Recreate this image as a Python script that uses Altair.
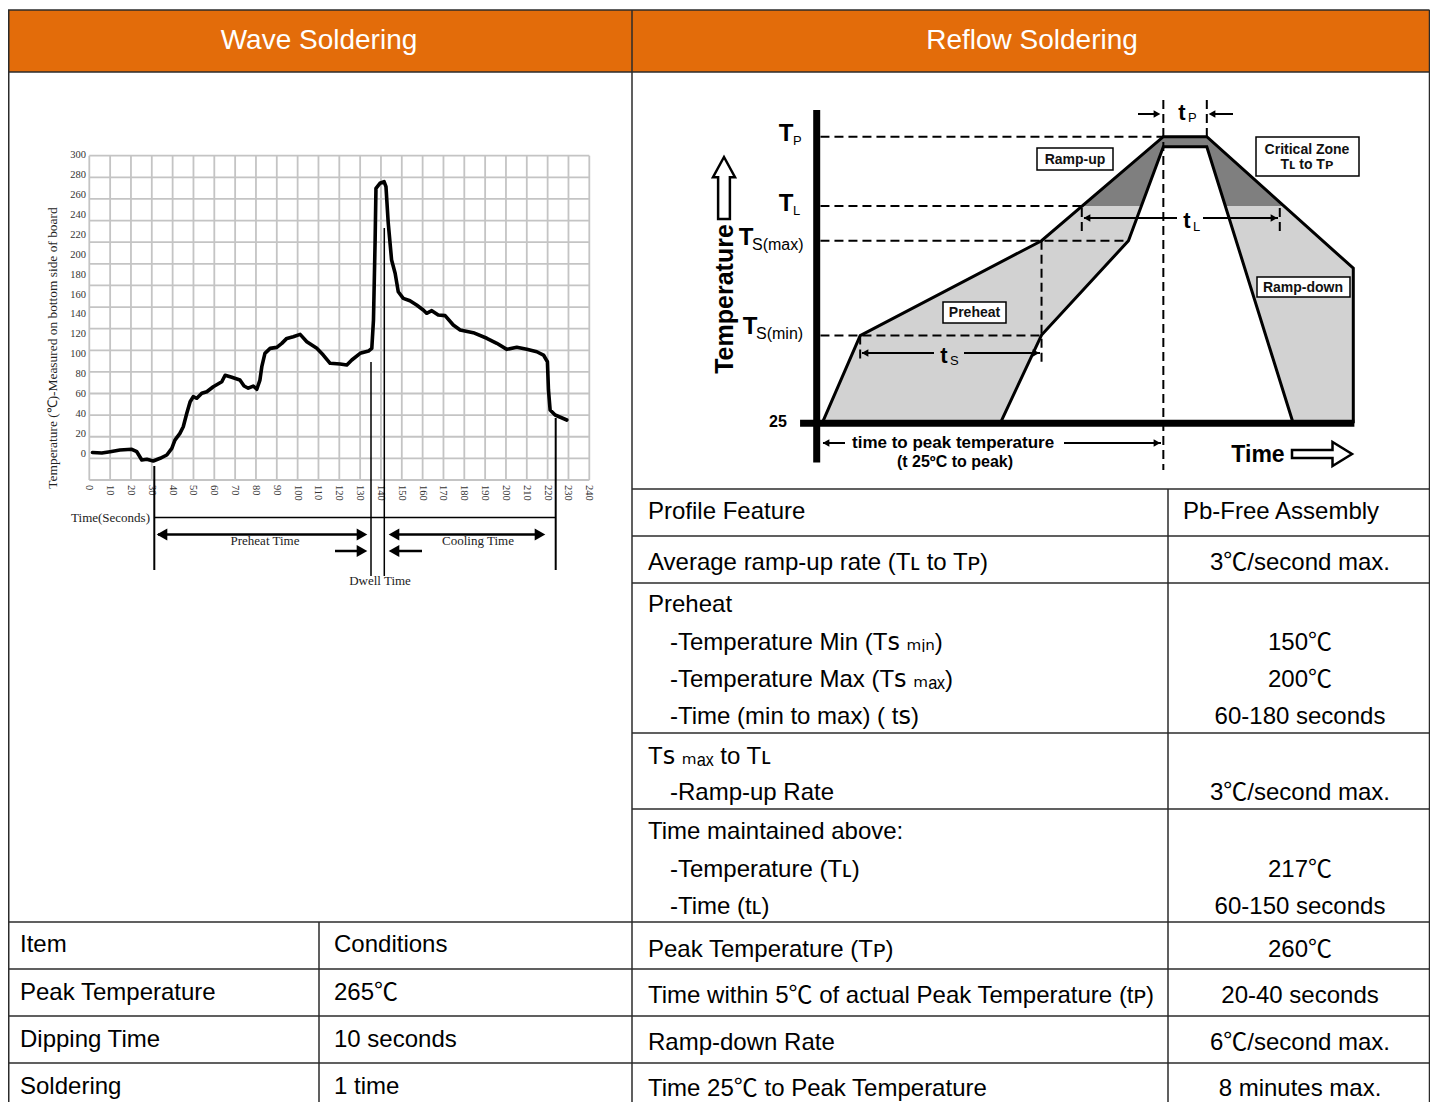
import altair as alt
import pandas as pd

# =========================== DATA ===========================
HEADERS = ["Wave Soldering", "Reflow Soldering"]

# wave soldering profile (seconds, deg C)
WAVE_TIME = [1.5, 6, 10, 14.7, 20.4, 22.8, 25.2, 27.6, 30.7, 34, 37.2, 39.6, 41.1, 43.5, 45.1,
             46.8, 48.4, 49.9, 51.6, 54, 56.4, 59.5, 63.6, 65.2, 68.4, 72.3, 74.3, 76.3, 78.7, 80.4,
             81.9, 82.8, 84.3, 86.8, 90, 92.4, 94.8, 97.9, 101.2, 104.4, 109.2, 112.3, 115.6, 120.4, 123.6,
             126, 130, 134, 135.6, 136.4, 137.2, 137.6, 139.5, 141.5, 142.4, 143.5, 145.1, 146.8, 148.3, 150.7,
             153.9, 157.1, 160.3, 161.9, 164.4, 167.5, 170.8, 174.7, 178, 184.3, 190.8, 195.6, 200.4, 205.2, 210,
             214.8, 218, 219.9, 220.4, 221.2, 223.6, 229.2]
WAVE_TEMP = [1.5, 1, 2.3, 4, 4.7, 2.3, -6, -5.3, -7, -4.3, -1, 5.7, 14, 20.7, 27.4,
             40.8, 52.5, 57.5, 55.9, 60.9, 62.5, 67.5, 72.5, 79, 77, 74.2, 68.2, 66, 68.2, 65,
             74.2, 87.6, 101, 106, 107, 111, 116, 117.7, 120, 112.7, 106, 99.3, 91, 90.3, 89.3,
             94.3, 101, 103.3, 106, 134.4, 214.7, 266.6, 271.6, 273.2, 268.2, 231.5, 194.6, 181.3, 162.8, 156.2,
             153.8, 149.5, 144.5, 141.2, 143.8, 139.5, 138.8, 129.4, 124.4, 121.7, 116.1, 111.1, 105, 107, 105,
             102.6, 99.3, 92.6, 64.2, 44.1, 39.1, 34.1]
WAVE_X_TICKS = list(range(0, 241, 10))
WAVE_Y_TICKS = list(range(0, 301, 20))
WAVE_GRID_ROWS = list(range(16))
WAVE_Y_TITLE = "Temperature (℃)-Measured on bottom side of board"
WAVE_NOTES = ["Time(Seconds)", "Preheat Time", "Cooling Time", "Dwell Time"]

WAVE_ITEMS = ["Item", "Peak Temperature", "Dipping Time", "Soldering"]
WAVE_CONDITIONS = ["Conditions", "265℃", "10 seconds", "1 time"]

REFLOW_FEATURES = [
    "Profile Feature",
    "Average ramp-up rate (Tʟ to Tᴘ)",
    "Preheat",
    "-Temperature Min (Tꜱ ₘᵢₙ)",
    "-Temperature Max (Tꜱ ₘₐₓ)",
    "-Time (min to max) ( tꜱ)",
    "Tꜱ ₘₐₓ to Tʟ",
    "-Ramp-up Rate",
    "Time maintained above:",
    "-Temperature (Tʟ)",
    "-Time (tʟ)",
    "Peak Temperature (Tᴘ)",
    "Time within 5℃ of actual Peak Temperature (tᴘ)",
    "Ramp-down Rate",
    "Time 25℃ to Peak Temperature",
]
REFLOW_VALUES = ["Pb-Free Assembly", "3℃/second max.", "", "150℃", "200℃", "60-180 seconds", "",
                 "3℃/second max.", "", "217℃", "60-150 seconds", "260℃", "20-40 seconds",
                 "6℃/second max.", "8 minutes max."]
REFLOW_INDENTED = [False, False, False, True, True, True, False, True, False, True, True,
                   False, False, False, False]

# schematic reflow profile: time 0..100 along the axis, level 0 (=25 ℃) .. 100 (=Tp)
LEVEL_VALUES = [100, 75.8, 63.7, 30.6]          # Tp, TL, Ts(max), Ts(min)
OUTER_T = [1, 8.1, 41.9, 64.6, 72.7, 100, 100]
OUTER_L = [0, 30.6, 63.7, 100, 100, 54.1, 0]
INNER_T = [34.2, 41.9, 58.1, 64.6, 72.7, 88.8]
INNER_L = [0, 30.8, 63.7, 96.5, 96.5, 0]
CRIT_T = [49.4, 64.6, 72.7, 87.1]
CRIT_L = [75.8, 100, 100, 75.8]
DIAGRAM_LABELS = ["Ramp-up", "Critical Zone", "Tʟ to Tᴘ", "Ramp-down", "Preheat"]

# =========================== LAYOUT ===========================
M = 8
W, H = 1438 - 2 * M, 1102 - M
SANS = "Liberation Sans, Arial, Noto Sans CJK SC, DejaVu Sans, sans-serif"
SERIF = "Liberation Serif, Times New Roman, serif"
LINE = "#2b2b2b"


def lin(d0, d1, p0, p1):
    return alt.Scale(domain=[d0, d1], range=[p0 - M, p1 - M], nice=False, zero=False)


PAGE_X = lin(0, 1438, 0, 1438)
PAGE_Y = lin(0, 1102, 0, 1102)
WAVE_X = lin(0, 240, 89.3, 589.3)
WAVE_Y = lin(0, 300, 454, 155)
GRID_Y = lin(0, 15, 480, 155.7)
FLOW_X = lin(0, 100, 816.7, 1353.3)
FLOW_Y = lin(0, 100, 423.3, 136.7)


def exy(sx, sy):
    return dict(x=alt.X("x:Q", scale=sx, axis=None), y=alt.Y("y:Q", scale=sy, axis=None))


def segs(rows, sx, sy, **style):
    df = pd.DataFrame(rows, columns=["x", "y", "x2", "y2"])
    return alt.Chart(df).mark_rule(**style).encode(**exy(sx, sy), x2=alt.X2("x2"), y2=alt.Y2("y2"))


def rects(rows, sx, sy, **style):
    df = pd.DataFrame(rows, columns=["x", "y", "x2", "y2"])
    return alt.Chart(df).mark_rect(**style).encode(**exy(sx, sy), x2=alt.X2("x2"), y2=alt.Y2("y2"))


def texts(xs, ys, labels, sx, sy, **style):
    df = pd.DataFrame({"x": xs, "y": ys, "t": labels})
    return alt.Chart(df).mark_text(**style).encode(**exy(sx, sy), text="t:N")


def points(xs, ys, sx, sy, **style):
    df = pd.DataFrame({"x": xs, "y": ys})
    return alt.Chart(df).mark_point(**style).encode(**exy(sx, sy))


def path(xs, ys, sx, sy, **style):
    df = pd.DataFrame({"x": xs, "y": ys, "i": list(range(len(xs)))})
    return alt.Chart(df).mark_line(**style).encode(**exy(sx, sy), order="i:Q")


def area(xs, ys, base, color):
    df = pd.DataFrame({"x": xs, "y": ys, "b": [base] * len(xs)})
    return alt.Chart(df).mark_area(color=color, opacity=1, line=False).encode(
        **exy(FLOW_X, FLOW_Y), y2=alt.Y2("b"))


def head(xs, ys, shape, size, sx=PAGE_X, sy=PAGE_Y):
    return points(xs, ys, sx, sy, shape=shape, filled=True, color="black", size=size, opacity=1,
                  strokeWidth=0)


layers = []

# ---- header band
layers.append(rects([(8, 10, 1430, 72)], PAGE_X, PAGE_Y, color="#E36C0A"))

# ---- wave soldering chart
layers.append(segs([(t, 0, t, 15) for t in WAVE_X_TICKS], WAVE_X, GRID_Y, color="#c4c4c4", strokeWidth=1.8))
layers.append(segs([(0, k, 240, k) for k in WAVE_GRID_ROWS], WAVE_X, GRID_Y, color="#c4c4c4", strokeWidth=1.8))
layers.append(texts([86] * len(WAVE_Y_TICKS), WAVE_Y_TICKS, [str(v) for v in WAVE_Y_TICKS], PAGE_X, WAVE_Y,
                    align="right", baseline="middle", font=SERIF, fontSize=10.5, color="#333"))
layers.append(texts(WAVE_X_TICKS, [485] * len(WAVE_X_TICKS), [str(v) for v in WAVE_X_TICKS], WAVE_X, PAGE_Y,
                    align="left", baseline="middle", angle=90, font=SERIF, fontSize=10.5, color="#333"))
layers.append(texts([53], [348], [WAVE_Y_TITLE], PAGE_X, PAGE_Y, align="center", baseline="middle",
                    angle=270, font=SERIF, fontSize=13.4, color="#222"))
layers.append(path(WAVE_TIME, WAVE_TEMP, WAVE_X, WAVE_Y, color="black", strokeWidth=3.6,
                   strokeJoin="round", strokeCap="round"))
layers.append(segs([(154.3, 466, 154.3, 570), (555.7, 418, 555.7, 570)], PAGE_X, PAGE_Y,
                   color="black", strokeWidth=2))
layers.append(segs([(371, 362, 371, 576), (384.3, 228, 384.3, 576), (154.3, 517.5, 555.7, 517.5)],
                   PAGE_X, PAGE_Y, color="black", strokeWidth=1.5))
layers.append(segs([(158, 534.5, 362, 534.5), (392, 534.5, 542, 534.5), (335, 551, 362, 551),
                    (394, 551, 422, 551)], PAGE_X, PAGE_Y, color="black", strokeWidth=2.5))
layers.append(head([362, 540, 362], [534.5, 534.5, 551], "triangle-right", 150))
layers.append(head([162, 394, 394], [534.5, 534.5, 551], "triangle-left", 150))
layers.append(texts([150], [517.5], [WAVE_NOTES[0]], PAGE_X, PAGE_Y, align="right", baseline="middle",
                    font=SERIF, fontSize=13, color="#222"))
layers.append(texts([265, 478, 380], [541, 541, 581], WAVE_NOTES[1:], PAGE_X, PAGE_Y, align="center",
                    baseline="middle", font=SERIF, fontSize=13, color="#222"))

# ---- reflow profile diagram
layers.append(area(OUTER_T[:6], OUTER_L[:6], 0, "#d2d2d2"))
layers.append(area(CRIT_T, CRIT_L, LEVEL_VALUES[1], "#7f7f7f"))
layers.append(area(INNER_T, INNER_L, 0, "white"))
layers.append(segs([(0.7, v, x, v) for v, x in zip(LEVEL_VALUES, [64.6, 49.4, 58.1, 41.9])]
                   + [(64.6, 112.8, 64.6, -16.3), (72.7, 112.8, 72.7, 100), (41.9, 63.7, 41.9, 21.4),
                      (49.4, 75.1, 49.4, 66.7), (86.3, 75.1, 86.3, 66.7), (8.1, 30.6, 8.1, 21.4)],
                   FLOW_X, FLOW_Y, color="black", strokeWidth=2, strokeDash=[9, 5]))
layers.append(path(OUTER_T, OUTER_L, FLOW_X, FLOW_Y, color="black", strokeWidth=3, strokeJoin="miter"))
layers.append(path(INNER_T, INNER_L, FLOW_X, FLOW_Y, color="black", strokeWidth=3, strokeJoin="miter"))
layers.append(segs([(0, 109.3, 0, -13.7), (-3.1, 0, 100.2, 0)], FLOW_X, FLOW_Y, color="black",
                   strokeWidth=7, strokeCap="butt"))
# labelled boxes
layers.append(rects([(1037, 148, 1113, 170), (1256, 137, 1359, 176), (1257, 277, 1350, 297),
                     (943, 302, 1006, 323)], PAGE_X, PAGE_Y, fill="white", stroke="black", strokeWidth=1.5))
layers.append(texts([1075, 1307, 1307, 1303, 974.5], [159.5, 149.5, 164.5, 287.5, 312.5], DIAGRAM_LABELS,
                    PAGE_X, PAGE_Y, align="center", baseline="middle", font=SANS, fontSize=14,
                    fontWeight="bold", color="#111"))
# level labels
layers.append(texts([786, 786, 746, 750], [134, 204, 238, 327], ["T", "T", "T", "T"], PAGE_X, PAGE_Y,
                    align="center", baseline="middle", font=SANS, fontSize=24, fontWeight="bold", color="black"))
layers.append(texts([793, 793], [141, 211], ["P", "L"], PAGE_X, PAGE_Y, align="left", baseline="middle",
                    font=SANS, fontSize=13, color="black"))
layers.append(texts([752, 756], [245, 334], ["S(max)", "S(min)"], PAGE_X, PAGE_Y, align="left",
                    baseline="middle", font=SANS, fontSize=16, color="black"))
layers.append(texts([778], [422], ["25"], PAGE_X, PAGE_Y, align="center", baseline="middle", font=SANS,
                    fontSize=16, fontWeight="bold", color="black"))
# time marks
layers.append(texts([1182, 1187, 944], [113, 221, 356], ["t", "t", "t"], PAGE_X, PAGE_Y, align="center",
                    baseline="middle", font=SANS, fontSize=22, fontWeight="bold", color="black"))
layers.append(texts([1188, 1193, 950], [118, 227, 361], ["P", "L", "S"], PAGE_X, PAGE_Y, align="left",
                    baseline="middle", font=SANS, fontSize=13, color="black"))
layers.append(segs([(1138, 114, 1156, 114), (1214, 114, 1233, 114), (1084, 218, 1177, 218),
                    (1203, 218, 1278, 218), (862, 353, 934, 353), (964, 353, 1040, 353),
                    (823, 443, 845, 443), (1064, 443, 1161, 443)], PAGE_X, PAGE_Y, color="black",
                   strokeWidth=2))
layers.append(head([1157, 1274, 1036, 1157], [114, 218, 353, 443], "triangle-right", 60))
layers.append(head([1212, 1087, 865, 826], [114, 218, 353, 443], "triangle-left", 60))
layers.append(texts([852], [443], ["time to peak temperature"], PAGE_X, PAGE_Y, align="left",
                    baseline="middle", font=SANS, fontSize=17, fontWeight="bold", color="black"))
layers.append(texts([955], [462], ["(t 25ºC to peak)"], PAGE_X, PAGE_Y, align="center",
                    baseline="middle", font=SANS, fontSize=16, fontWeight="bold", color="black"))
layers.append(texts([725], [299], ["Temperature"], PAGE_X, PAGE_Y, align="center", baseline="middle",
                    angle=270, font=SANS, fontSize=25, fontWeight="bold", color="black"))
layers.append(texts([1258], [455], ["Time"], PAGE_X, PAGE_Y, align="center", baseline="middle",
                    font=SANS, fontSize=23, fontWeight="bold", color="black"))
UP_ARROW = "M-0.19,1L-0.19,-0.35L-0.355,-0.35L0,-1L0.355,-0.35L0.19,-0.35L0.19,1Z"
RIGHT_ARROW = "M-1,-0.13L0.35,-0.13L0.35,-0.4L1,0L0.35,0.4L0.35,0.13L-1,0.13Z"
layers.append(points([724], [188], PAGE_X, PAGE_Y, shape=UP_ARROW, size=3844, filled=True, fill="white",
                     stroke="black", strokeWidth=2.5, opacity=1))
layers.append(points([1322], [454], PAGE_X, PAGE_Y, shape=RIGHT_ARROW, size=3600, filled=True, fill="white",
                     stroke="black", strokeWidth=2.5, opacity=1))

# ---- table lines
RIGHT = 1429.5
h_lines = [(8, 10, RIGHT, 10), (8, 72, RIGHT, 72)]
h_lines += [(632, y, RIGHT, y) for y in [489, 536, 583, 733, 809]]
h_lines += [(8, y, RIGHT, y) for y in [922, 969, 1016, 1063]]
v_lines = [(8.75, 10, 8.75, 1102), (632, 10, 632, 1102), (RIGHT, 10, RIGHT, 1102),
           (1168, 489, 1168, 1102), (319, 922, 319, 1102)]
layers.append(segs(h_lines + v_lines, PAGE_X, PAGE_Y, color=LINE, strokeWidth=1.5))

# ---- headers
layers.append(texts([319, 1032], [41, 41], HEADERS, PAGE_X, PAGE_Y, align="center", baseline="middle",
                    font=SANS, fontSize=28, color="white"))

# ---- wave table
FS = 24
ROW_Y_WAVE = [945, 993, 1040, 1087]
layers.append(texts([20] * 4, ROW_Y_WAVE, WAVE_ITEMS, PAGE_X, PAGE_Y, align="left", baseline="middle",
                    font=SANS, fontSize=FS, color="black"))
layers.append(texts([334] * 4, ROW_Y_WAVE, WAVE_CONDITIONS, PAGE_X, PAGE_Y, align="left", baseline="middle",
                    font=SANS, fontSize=FS, color="black"))

# ---- reflow table
ROW_Y = [512, 563, 605, 643, 680, 717, 757, 793, 832, 870, 907, 950, 996, 1043, 1089]
layers.append(texts([670 if ind else 648 for ind in REFLOW_INDENTED], ROW_Y, REFLOW_FEATURES, PAGE_X, PAGE_Y,
                    align="left", baseline="middle", font=SANS, fontSize=FS, color="black"))
layers.append(texts([1183], ROW_Y[:1], REFLOW_VALUES[:1], PAGE_X, PAGE_Y, align="left", baseline="middle",
                    font=SANS, fontSize=FS, color="black"))
layers.append(texts([1300] * (len(ROW_Y) - 1), ROW_Y[1:], REFLOW_VALUES[1:], PAGE_X, PAGE_Y, align="center",
                    baseline="middle", font=SANS, fontSize=FS, color="black"))

chart = (
    alt.layer(*layers)
    .resolve_scale(x="independent", y="independent")
    .properties(width=W, height=H, padding=0, autosize=alt.AutoSizeParams(type="none"),
                background="white")
    .configure_view(stroke=None)
)
chart.save("out.html", embed_options={"renderer": "svg", "actions": False})
